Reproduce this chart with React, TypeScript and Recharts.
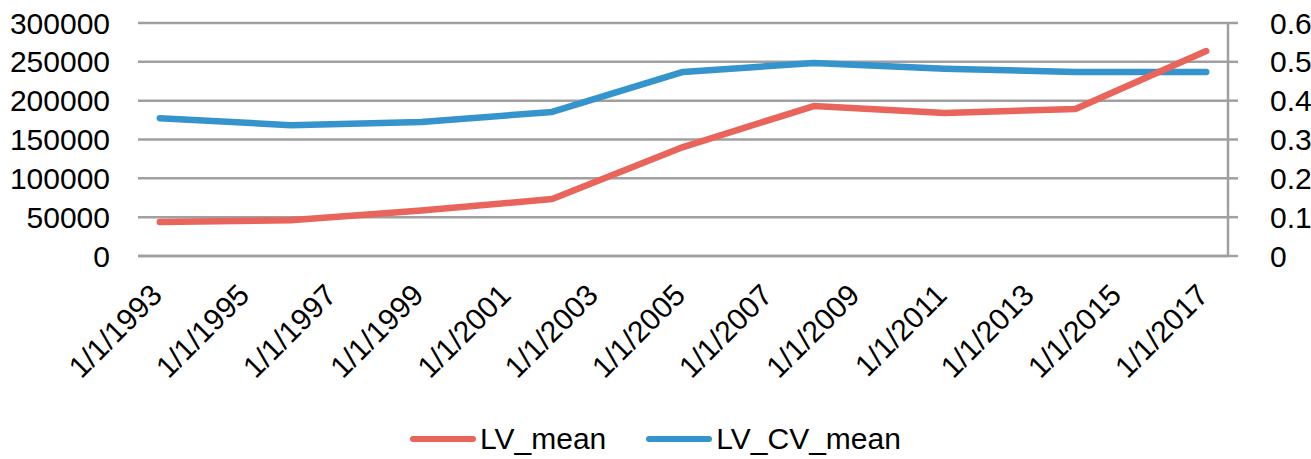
import { LineChart, Line, XAxis, YAxis, CartesianGrid, Legend } from "recharts";

const years = [1993, 1996, 1999, 2002, 2005, 2008, 2011, 2014, 2017];
const lvMean = [43800, 46000, 58500, 73400, 140300, 193100, 184100, 189300, 263900];
const lvCvMean = [0.355, 0.337, 0.345, 0.371, 0.474, 0.497, 0.482, 0.474, 0.474];

const xTicks = [1993, 1995, 1997, 1999, 2001, 2003, 2005, 2007, 2009, 2011, 2013, 2015, 2017];
const leftTicks = [0, 50000, 100000, 150000, 200000, 250000, 300000];
const rightTicks = [0, 0.1, 0.2, 0.3, 0.4, 0.5, 0.6];

const series = [
  { key: "LV_mean", color: "#E9645B" },
  { key: "LV_CV_mean", color: "#3594CC" },
];

const data = years.map((year, i) => ({
  year,
  LV_mean: lvMean[i],
  LV_CV_mean: lvCvMean[i],
}));

const font = "'Liberation Sans', Arial, sans-serif";
const gridColor = "#A0A0A0";
const tickStyle = { fontSize: 30, fill: "#000", fontFamily: font };

// rotated date label, end of text sits just right of / below the tick
const DateTick = (props: any) => {
  const { x, y, payload } = props;
  const bx = x + 4;
  const by = y + 41;
  return (
    <text
      x={bx}
      y={by}
      transform={`rotate(-45 ${bx} ${by})`}
      textAnchor="end"
      fontSize={30}
      fontFamily={font}
      fill="#000"
    >
      {`1/1/${payload.value}`}
    </text>
  );
};

const LegendContent = () => (
  <div
    style={{
      display: "flex",
      justifyContent: "center",
      alignItems: "center",
      gap: 40,
      fontFamily: font,
      fontSize: 30,
      color: "#000",
    }}
  >
    {series.map((s) => (
      <div key={s.key} style={{ display: "flex", alignItems: "center" }}>
        <svg width={66} height={10}>
          <line x1={3} y1={5} x2={63} y2={5} stroke={s.color} strokeWidth={6} strokeLinecap="round" />
        </svg>
        <span style={{ marginLeft: 4 }}>{s.key}</span>
      </div>
    ))}
  </div>
);

const App = () => {
  return (
    <div style={{ position: "absolute", left: 0, top: 0 }}>
      <LineChart
        width={1311}
        height={459}
        data={data}
        margin={{ top: 23, right: 0, bottom: 53, left: 0 }}
      >
        <CartesianGrid yAxisId="left" vertical={false} stroke={gridColor} strokeWidth={2.5} />
        <XAxis
          dataKey="year"
          type="number"
          domain={[1992.5, 2017.5]}
          ticks={xTicks}
          interval={0}
          height={150}
          tickLine={false}
          tickSize={0}
          tickMargin={0}
          axisLine={{ stroke: gridColor, strokeWidth: 2.5 }}
          tick={<DateTick />}
        />
        <YAxis
          yAxisId="left"
          domain={[0, 300000]}
          ticks={leftTicks}
          interval={0}
          width={138}
          axisLine={false}
          tickLine={false}
          tickSize={0}
          tickMargin={28}
          tick={tickStyle}
        />
        <YAxis
          yAxisId="right"
          orientation="right"
          domain={[0, 0.6]}
          ticks={rightTicks}
          interval={0}
          width={83}
          axisLine={{ stroke: gridColor, strokeWidth: 2.5 }}
          tickLine={{ stroke: gridColor, strokeWidth: 2.5 }}
          tickSize={10}
          tickMargin={17}
          tick={{ ...tickStyle, textAnchor: "start", dx: 15 }}
        />
        <Legend
          verticalAlign="middle"
          align="center"
          layout="horizontal"
          wrapperStyle={{ top: 422, left: 0, width: 1311 }}
          content={<LegendContent />}
        />
        <Line
          yAxisId="right"
          dataKey="LV_CV_mean"
          stroke="#3594CC"
          strokeWidth={6.5}
          strokeLinecap="round"
          strokeLinejoin="round"
          dot={false}
          isAnimationActive={false}
        />
        <Line
          yAxisId="left"
          dataKey="LV_mean"
          stroke="#E9645B"
          strokeWidth={6.5}
          strokeLinecap="round"
          strokeLinejoin="round"
          dot={false}
          isAnimationActive={false}
        />
      </LineChart>
    </div>
  );
};

export default App;
